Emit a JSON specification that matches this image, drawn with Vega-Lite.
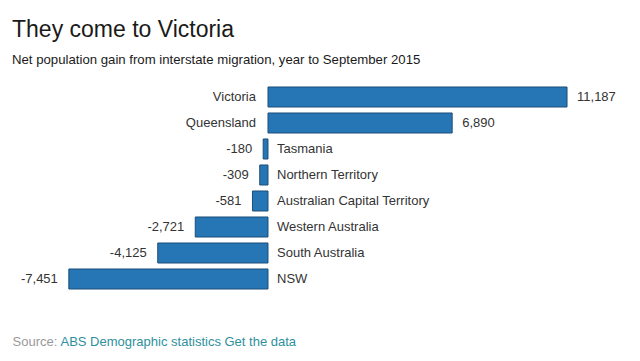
{
  "$schema": "https://vega.github.io/schema/vega-lite/v6.json",
  "width": 640,
  "height": 208,
  "autosize": {"type": "none"},
  "padding": {"left": 0, "right": 0, "top": 84, "bottom": 69},
  "background": "white",
  "config": {"view": {"stroke": null}, "font": "Liberation Sans"},
  "title": {
    "text": "They come to Victoria",
    "subtitle": "Net population gain from interstate migration, year to September 2015",
    "anchor": "start",
    "frame": "group",
    "dx": 12,
    "offset": 18,
    "font": "Liberation Sans",
    "fontSize": 23,
    "fontWeight": "normal",
    "color": "#1a1a1a",
    "subtitleFont": "Liberation Sans",
    "subtitleFontSize": 13.2,
    "subtitleColor": "#1a1a1a",
    "subtitlePadding": 12
  },
  "data": {
    "values": [
      {"state": "Victoria", "value": 11187},
      {"state": "Queensland", "value": 6890},
      {"state": "Tasmania", "value": -180},
      {"state": "Northern Territory", "value": -309},
      {"state": "Australian Capital Territory", "value": -581},
      {"state": "Western Australia", "value": -2721},
      {"state": "South Australia", "value": -4125},
      {"state": "NSW", "value": -7451}
    ]
  },
  "transform": [
    {"calculate": "replace(format(datum.value, ','), '\u2212', '-')", "as": "label"}
  ],
  "encoding": {
    "y": {
      "field": "state",
      "type": "nominal",
      "sort": null,
      "scale": {"paddingInner": 0.23, "paddingOuter": 0.115},
      "axis": null
    }
  },
  "layer": [
    {
      "mark": {"type": "bar", "fill": "#2676b5", "stroke": "#1c4e78", "strokeWidth": 1},
      "encoding": {
        "x": {
          "field": "value",
          "type": "quantitative",
          "scale": {"domain": [-10026, 13917], "nice": false},
          "axis": {
            "title": "Source:",
            "orient": "bottom",
            "domain": false,
            "ticks": false,
            "labels": false,
            "grid": false,
            "titleX": 12,
            "titleY": 53,
            "titleAlign": "left",
            "titleAnchor": null,
            "titleBaseline": "alphabetic",
            "titleColor": "#9a9a9a",
            "titleFont": "Liberation Sans",
            "titleFontSize": 13,
            "titleFontWeight": "normal"
          }
        }
      }
    },
    {
      "transform": [{"filter": "datum.value > 0"}],
      "mark": {"type": "text", "align": "left", "baseline": "middle", "dx": 10, "fontSize": 13, "color": "#333333"},
      "encoding": {
        "x": {
          "field": "value",
          "type": "quantitative",
          "axis": {
            "title": "ABS Demographic statistics Get the data",
            "orient": "bottom",
            "domain": false,
            "ticks": false,
            "labels": false,
            "grid": false,
            "titleX": 60,
            "titleY": 53,
            "titleAlign": "left",
            "titleAnchor": null,
            "titleBaseline": "alphabetic",
            "titleColor": "#2f8f9d",
            "titleFont": "Liberation Sans",
            "titleFontSize": 13,
            "titleFontWeight": "normal"
          }
        },
        "text": {"field": "label"}
      }
    },
    {
      "transform": [{"filter": "datum.value < 0"}],
      "mark": {"type": "text", "align": "right", "baseline": "middle", "dx": -11, "fontSize": 13, "color": "#333333"},
      "encoding": {
        "x": {"field": "value", "type": "quantitative", "axis": null},
        "text": {"field": "label"}
      }
    },
    {
      "transform": [{"filter": "datum.value > 0"}],
      "mark": {"type": "text", "align": "right", "baseline": "middle", "dx": -12, "fontSize": 13, "color": "#333333"},
      "encoding": {
        "x": {"datum": 0, "type": "quantitative", "axis": null},
        "text": {"field": "state"}
      }
    },
    {
      "transform": [{"filter": "datum.value < 0"}],
      "mark": {"type": "text", "align": "left", "baseline": "middle", "dx": 9, "fontSize": 13, "color": "#333333"},
      "encoding": {
        "x": {"datum": 0, "type": "quantitative", "axis": null},
        "text": {"field": "state"}
      }
    },
    {
      "mark": {"type": "rule", "color": "#333333", "strokeWidth": 1},
      "encoding": {
        "x": {"datum": 0, "type": "quantitative", "axis": null}
      }
    }
  ],
  "resolve": {"axis": {"x": "independent"}}
}
